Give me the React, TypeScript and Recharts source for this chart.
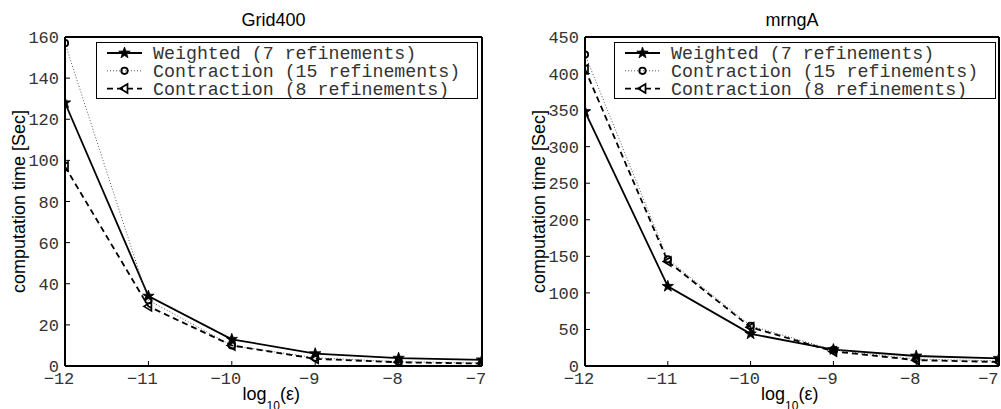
import React from 'react';
import { LineChart, Line, XAxis, YAxis, Legend } from 'recharts';

// log10(eps) sample points
const epsLog = [-12, -11, -10, -9, -8, -7];

// Grid400 timings [Sec]
const gridWeighted = [128, 34, 13, 6, 3.8, 3];
const gridContr15 = [157, 32, 10, 4, 2.1, 1.5];
const gridContr8 = [97, 29, 10, 3.5, 1.8, 1.2];
const gridYTicks = [0, 20, 40, 60, 80, 100, 120, 140, 160];

// mrngA timings [Sec]
const mrngWeighted = [348, 109, 44, 22.5, 13.7, 10.5];
const mrngContr15 = [426, 146, 55, 22, 9.5, 7];
const mrngContr8 = [406, 143, 53, 20, 8, 5.5];
const mrngYTicks = [0, 50, 100, 150, 200, 250, 300, 350, 400, 450];

const seriesNames = [
  'Weighted (7 refinements)',
  'Contraction (15 refinements)',
  'Contraction (8 refinements)',
];

const MONO = '"Liberation Mono", "DejaVu Sans Mono", monospace';
const SANS = '"Liberation Sans", Arial, sans-serif';
const MONO_FILL = '#333';

const fmtMinus = (v: number) => (v < 0 ? '\u2212' + Math.abs(v) : String(v));

function starPath(cx: number, cy: number, R: number) {
  const r = R * 0.4;
  let d = '';
  for (let i = 0; i < 10; i++) {
    const a = -Math.PI / 2 + (i * Math.PI) / 5;
    const rr = i % 2 === 0 ? R : r;
    d += (i === 0 ? 'M' : 'L') + (cx + rr * Math.cos(a)).toFixed(2) + ',' + (cy + rr * Math.sin(a)).toFixed(2);
  }
  return d + 'Z';
}

const Marker = ({ kind, cx, cy }: { kind: number; cx: number; cy: number }) => {
  if (kind === 0) return <path d={starPath(cx, cy, 6)} fill="#000" stroke="#000" strokeWidth={0.8} />;
  if (kind === 1) return <circle cx={cx} cy={cy} r={3.2} fill="none" stroke="#000" strokeWidth={1.8} />;
  return (
    <path
      d={`M${cx - 4.5},${cy} L${cx + 3},${cy - 4.5} L${cx + 3},${cy + 4.5} Z`}
      fill="none"
      stroke="#000"
      strokeWidth={1.7}
    />
  );
};

const lineStyles = [
  { stroke: '#000', width: 1.8, dash: undefined as string | undefined },
  { stroke: '#555', width: 1, dash: '1 2' },
  { stroke: '#000', width: 1.8, dash: '6 4' },
];

const XTick = (p: any) => (
  <text x={p.x - 6} y={p.y} dy="0.71em" textAnchor="middle" fill={MONO_FILL} fontSize={17} fontFamily={MONO}>
    {fmtMinus(p.payload.value)}
  </text>
);

const YTick = (p: any) => (
  <text x={p.x} y={p.y} dy="0.355em" textAnchor="end" fill={MONO_FILL} fontSize={17} fontFamily={MONO}>
    {p.payload.value}
  </text>
);

const LegendBox = () => (
  <div
    style={{
      width: 382,
      height: 57,
      boxSizing: 'border-box',
      border: '1px solid #000',
      background: '#fff',
    }}
  >
    <svg width={380} height={55} style={{ display: 'block', overflow: 'visible' }}>
      {seriesNames.map((name, i) => {
        const y = 10 + i * 17.8;
        const st = lineStyles[i];
        return (
          <g key={name}>
            <line x1={10} x2={45} y1={y} y2={y} stroke={st.stroke} strokeWidth={st.width} strokeDasharray={st.dash} />
            <Marker kind={i} cx={27.5} cy={y} />
            <text x={56} y={y + 6} fontSize={18.3} fontFamily={MONO} fill={MONO_FILL}>
              {name}
            </text>
          </g>
        );
      })}
    </svg>
  </div>
);

interface PanelProps {
  title: string;
  left: number;
  width: number;
  marginLeft: number;
  marginRight: number;
  legendLeft: number;
  yTicks: number[];
  values: number[][];
}

function Panel({ title, left, width, marginLeft, marginRight, legendLeft, yTicks, values }: PanelProps) {
  const data = epsLog.map((x, i) => ({ x, s0: values[0][i], s1: values[1][i], s2: values[2][i] }));
  const yMax = yTicks[yTicks.length - 1];
  return (
    <div style={{ position: 'absolute', left, top: 0 }}>
      <LineChart width={width} height={409} data={data} margin={{ top: 36, right: marginRight, bottom: 0, left: marginLeft }}>
        <XAxis
          xAxisId="b"
          dataKey="x"
          type="number"
          domain={[-12, -7]}
          ticks={epsLog}
          allowDataOverflow
          height={43}
          axisLine={{ stroke: '#000', strokeWidth: 2 }}
          tickLine={{ stroke: '#000', strokeWidth: 1 }}
          tickSize={-5}
          tickMargin={11}
          tick={XTick}
          label={(p: any) => {
            const vb = p.viewBox;
            const cx = vb.x + vb.width / 2 - 31;
            const by = vb.y + 34;
            return (
              <text x={cx} y={by} fontFamily={SANS} fontSize={18} fill="#000">
                log
                <tspan fontSize={12} dy={10}>10</tspan>
                <tspan dy={-10}>(ε)</tspan>
              </text>
            );
          }}
        />
        <XAxis
          xAxisId="t"
          orientation="top"
          dataKey="x"
          type="number"
          domain={[-12, -7]}
          ticks={epsLog}
          allowDataOverflow
          height={1}
          axisLine={{ stroke: '#000', strokeWidth: 2 }}
          tickLine={{ stroke: '#000', strokeWidth: 1 }}
          tickSize={-5}
          tick={false}
          label={(p: any) => {
            const vb = p.viewBox;
            return (
              <text x={vb.x + vb.width / 2} y={vb.y + vb.height - 11} textAnchor="middle" fontFamily={SANS} fontSize={18} fill="#000">
                {title}
              </text>
            );
          }}
        />
        <YAxis
          yAxisId="l"
          type="number"
          domain={[0, yMax]}
          ticks={yTicks}
          allowDataOverflow
          width={60}
          axisLine={{ stroke: '#000', strokeWidth: 2 }}
          tickLine={{ stroke: '#000', strokeWidth: 1 }}
          tickSize={-5}
          tickMargin={11}
          tick={YTick}
          label={(p: any) => {
            const vb = p.viewBox;
            const bx = vb.x + vb.width - 40;
            const cy = vb.y + vb.height / 2;
            return (
              <text
                x={bx}
                y={cy}
                textAnchor="middle"
                transform={`rotate(-90, ${bx}, ${cy})`}
                fontFamily={SANS}
                fontSize={18}
                fill="#000"
              >
                computation time [Sec]
              </text>
            );
          }}
        />
        <YAxis
          yAxisId="r"
          orientation="right"
          type="number"
          domain={[0, yMax]}
          ticks={yTicks}
          allowDataOverflow
          width={1}
          axisLine={{ stroke: '#000', strokeWidth: 2 }}
          tickLine={{ stroke: '#000', strokeWidth: 1 }}
          tickSize={-5}
          tick={false}
        />
        {[0, 1, 2].map((i) => (
          <Line
            key={i}
            xAxisId="b"
            yAxisId="l"
            dataKey={'s' + i}
            name={seriesNames[i]}
            type="linear"
            stroke={lineStyles[i].stroke}
            strokeWidth={lineStyles[i].width}
            strokeDasharray={lineStyles[i].dash}
            isAnimationActive={false}
            dot={(p: any) => <Marker key={p.index} kind={i} cx={p.cx} cy={p.cy} />}
            activeDot={false}
          />
        ))}
        <Legend
          layout="vertical"
          align="center"
          verticalAlign="middle"
          wrapperStyle={{ left: legendLeft, top: 42, width: 382, height: 57 }}
          content={() => <LegendBox />}
        />
      </LineChart>
    </div>
  );
}

export default function App() {
  return (
    <div style={{ position: 'absolute', left: 0, top: 0, width: 1001, height: 409, background: '#fff', overflow: 'hidden' }}>
      <Panel
        title="Grid400"
        left={0}
        width={500}
        marginLeft={5}
        marginRight={17}
        legendLeft={96}
        yTicks={gridYTicks}
        values={[gridWeighted, gridContr15, gridContr8]}
      />
      <Panel
        title="mrngA"
        left={500}
        width={501}
        marginLeft={25}
        marginRight={1}
        legendLeft={114}
        yTicks={mrngYTicks}
        values={[mrngWeighted, mrngContr15, mrngContr8]}
      />
    </div>
  );
}
